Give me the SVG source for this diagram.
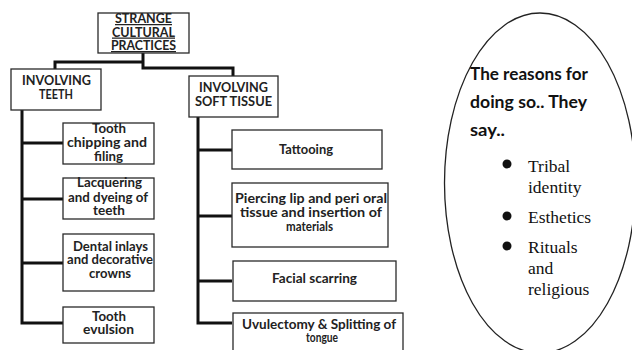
<svg xmlns="http://www.w3.org/2000/svg" width="632" height="350" viewBox="0 0 632 350">
<style>
.box{fill:#fff;stroke:#2a2a2a;stroke-width:1.3}
.lbl{font-family:Lato,"Open Sans",sans-serif;font-weight:bold;font-size:12.5px;fill:#222;text-anchor:middle}
.ul{text-decoration:underline}
.conn{fill:none;stroke:#111;stroke-width:3;stroke-linejoin:miter}
.head{font-family:Lato,"Open Sans",sans-serif;font-weight:bold;font-size:16.5px;fill:#111}
.ser{font-family:"Liberation Serif","Times New Roman",serif;font-size:17.5px;fill:#111}
</style>
<rect width="632" height="350" fill="#fff"/>
<g id="connectors">
<path class="conn" d="M143,53 V68 H233 V76"/>
<path class="conn" d="M143,62 H55 V69"/>
<path class="conn" d="M22,110 V323 H63 M22,143 H63 M22,199 H63 M22,263 H63"/>
<path class="conn" d="M198,117 V323 H232 M198,150 H232 M198,216 H232 M198,281 H232"/>
</g>
<g id="root">
<rect class="box" x="98" y="13" width="91" height="40"/>
<text class="lbl ul" x="143.5" y="23" textLength="57" lengthAdjust="spacingAndGlyphs">STRANGE</text>
<text class="lbl ul" x="143.5" y="36.5" textLength="63" lengthAdjust="spacingAndGlyphs">CULTURAL</text>
<text class="lbl ul" x="143.5" y="50" textLength="65" lengthAdjust="spacingAndGlyphs">PRACTICES</text>
</g>
<g id="teeth">
<rect class="box" x="11" y="69" width="90" height="41"/>
<text class="lbl" x="56.5" y="85" textLength="69" lengthAdjust="spacingAndGlyphs">INVOLVING</text>
<text class="lbl" x="56" y="99" textLength="34" lengthAdjust="spacingAndGlyphs">TEETH</text>
</g>
<g id="soft">
<rect class="box" x="189" y="76" width="89" height="41"/>
<text class="lbl" x="233.5" y="92" textLength="69" lengthAdjust="spacingAndGlyphs">INVOLVING</text>
<text class="lbl" x="233.5" y="106" textLength="77" lengthAdjust="spacingAndGlyphs">SOFT TISSUE</text>
</g>
<g id="chipping">
<rect class="box" x="63" y="123" width="91" height="41"/>
<text class="lbl" x="109" y="133" textLength="34" lengthAdjust="spacingAndGlyphs">Tooth</text>
<text class="lbl" x="107" y="147" textLength="80" lengthAdjust="spacingAndGlyphs">chipping and</text>
<text class="lbl" x="108.5" y="161" textLength="29" lengthAdjust="spacingAndGlyphs">filing</text>
</g>
<g id="lacquering">
<rect class="box" x="63" y="178" width="91" height="41"/>
<text class="lbl" x="109.5" y="187" textLength="65" lengthAdjust="spacingAndGlyphs">Lacquering</text>
<text class="lbl" x="108" y="202" textLength="80" lengthAdjust="spacingAndGlyphs">and dyeing of</text>
<text class="lbl" x="109" y="215" textLength="32" lengthAdjust="spacingAndGlyphs">teeth</text>
</g>
<g id="inlays">
<rect class="box" x="63" y="234" width="91" height="57"/>
<text class="lbl" x="110.5" y="251" textLength="75" lengthAdjust="spacingAndGlyphs">Dental inlays</text>
<text class="lbl" x="110" y="264" textLength="86" lengthAdjust="spacingAndGlyphs">and decorative</text>
<text class="lbl" x="110" y="278" textLength="42" lengthAdjust="spacingAndGlyphs">crowns</text>
</g>
<g id="evulsion">
<rect class="box" x="63" y="307" width="91" height="36"/>
<text class="lbl" x="109" y="321" textLength="34" lengthAdjust="spacingAndGlyphs">Tooth</text>
<text class="lbl" x="108.5" y="334" textLength="51" lengthAdjust="spacingAndGlyphs">evulsion</text>
</g>
<g id="tattooing">
<rect class="box" x="232" y="130" width="150" height="39"/>
<text class="lbl" x="306" y="154" textLength="54" lengthAdjust="spacingAndGlyphs">Tattooing</text>
</g>
<g id="piercing">
<rect class="box" x="232" y="183" width="156" height="64"/>
<text class="lbl" x="311" y="203" textLength="152" lengthAdjust="spacingAndGlyphs">Piercing lip and peri oral</text>
<text class="lbl" x="311" y="217" textLength="142" lengthAdjust="spacingAndGlyphs">tissue and insertion of</text>
<text class="lbl" x="309.5" y="231" textLength="47" lengthAdjust="spacingAndGlyphs">materials</text>
</g>
<g id="scarring">
<rect class="box" x="233" y="261" width="163" height="40"/>
<text class="lbl" x="314.5" y="283" textLength="85" lengthAdjust="spacingAndGlyphs">Facial scarring</text>
</g>
<g id="uvulectomy">
<rect class="box" x="233" y="313" width="170" height="45"/>
<text class="lbl" x="319" y="329" textLength="154" lengthAdjust="spacingAndGlyphs">Uvulectomy &amp; Splitting of</text>
<text class="lbl" x="322" y="342" textLength="32" lengthAdjust="spacingAndGlyphs">tongue</text>
</g>
<g id="reasons">
<ellipse cx="540" cy="183" rx="95.5" ry="170" fill="none" stroke="#222" stroke-width="1.3"/>
<text class="head" x="470" y="80" textLength="118" lengthAdjust="spacingAndGlyphs">The reasons for</text>
<text class="head" x="470" y="108" textLength="117" lengthAdjust="spacingAndGlyphs">doing so.. They</text>
<text class="head" x="470" y="136" textLength="35" lengthAdjust="spacingAndGlyphs">say..</text>
<circle cx="507" cy="164" r="4.5" fill="#111"/>
<circle cx="507" cy="216" r="4.5" fill="#111"/>
<circle cx="507" cy="246" r="4.5" fill="#111"/>
<text class="ser" x="528" y="172">Tribal</text>
<text class="ser" x="528" y="193">identity</text>
<text class="ser" x="528" y="223">Esthetics</text>
<text class="ser" x="528" y="253">Rituals</text>
<text class="ser" x="528" y="274">and</text>
<text class="ser" x="528" y="295">religious</text>
</g>
</svg>
